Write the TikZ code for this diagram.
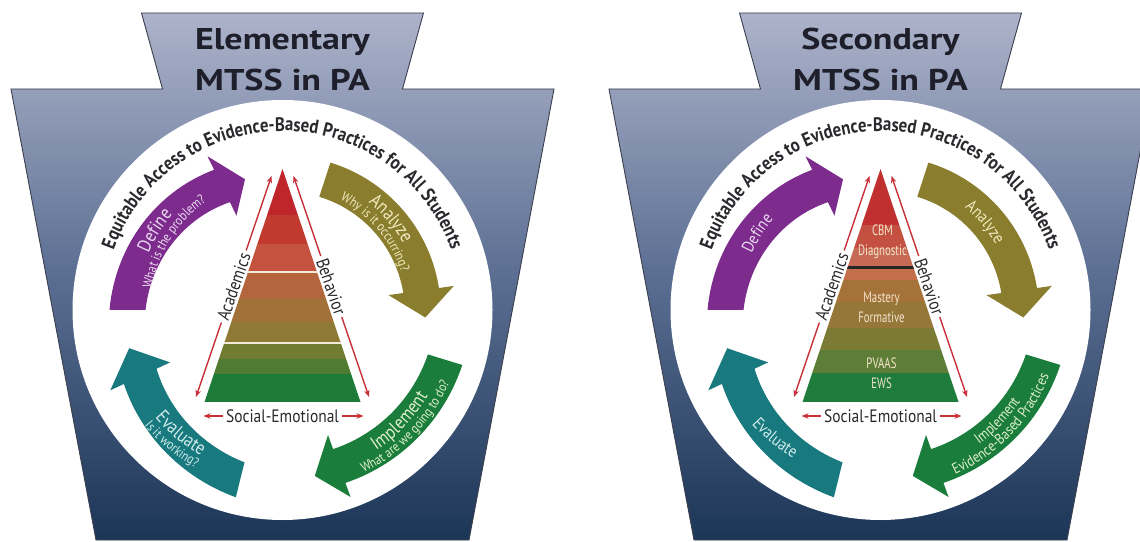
\documentclass[tikz,border=0pt]{standalone}
\usepackage{fontspec}
\setmainfont{PT Sans}
\newfontfamily\labelfont[FakeStretch=0.86]{PT Sans}
\newfontfamily\tierfont[FakeStretch=0.72]{PT Sans}
\newfontfamily\titlefont[FakeStretch=1.2]{PT Sans}
\usetikzlibrary{arrows.meta,decorations.text,positioning}

\newcommand\arctopfont{\labelfont\bfseries\fontsize{19.5}{19.5}\selectfont}
\newcommand\arcbigfont{\labelfont\fontsize{19}{19}\selectfont}
\newcommand\arcmidfont{\labelfont\fontsize{17}{17}\selectfont}
\newcommand\arcpairfont{\labelfont\fontsize{15}{15}\selectfont}
\newcommand\arcsmallfont{\labelfont\fontsize{13.5}{13.5}\selectfont}

\definecolor{ksTop}{HTML}{ADB3CA}
\definecolor{ksMid}{HTML}{5A6E92}
\definecolor{ksBot}{HTML}{1C3657}
\definecolor{ksLine}{HTML}{3C3F4E}
\definecolor{titleInk}{HTML}{1E1F2B}
\definecolor{labelInk}{HTML}{2A2A2E}
\definecolor{pyrRed}{HTML}{C8313A}
\definecolor{defPurple}{HTML}{7D2C8D}
\definecolor{anaOlive}{HTML}{8A7E2E}
\definecolor{impGreen}{HTML}{1B7D3B}
\definecolor{evaTeal}{HTML}{18797F}
\definecolor{defTxt}{HTML}{EBD9F1}
\definecolor{anaTxt}{HTML}{F2E9BE}
\definecolor{impTxt}{HTML}{DDF0C6}
\definecolor{evaTxt}{HTML}{CFEBEA}
\definecolor{tierCream}{HTML}{F3E4CC}
\definecolor{lineCream}{HTML}{F4EBD8}
% pyramid bands, elementary
\definecolor{elA}{HTML}{BE262C}
\definecolor{elB}{HTML}{C1392F}
\definecolor{elC}{HTML}{C4523F}
\definecolor{elD}{HTML}{B4653E}
\definecolor{elE}{HTML}{A2713A}
\definecolor{elF}{HTML}{8E7A34}
\definecolor{elG}{HTML}{6F7C32}
\definecolor{elH}{HTML}{4F7B33}
\definecolor{elI}{HTML}{1E7A37}
% pyramid bands, secondary
\definecolor{seA}{HTML}{C0302F}
\definecolor{seB}{HTML}{C45042}
\definecolor{seC}{HTML}{C66A55}
\definecolor{seD}{HTML}{C3704A}
\definecolor{seE}{HTML}{A5723A}
\definecolor{seF}{HTML}{95773A}
\definecolor{seG}{HTML}{7C7B36}
\definecolor{seH}{HTML}{5E7E37}
\definecolor{seI}{HTML}{1F7C3A}

\begin{document}
\begin{tikzpicture}[x=1pt,y=1pt,
  keystone/.style={draw=ksLine, line width=0.9pt, top color=ksTop, bottom color=ksBot, middle color=ksMid},
  heading/.style={font=\titlefont\bfseries\fontsize{30}{30}\selectfont, text=titleInk, anchor=base, inner sep=0pt},
  sidelabel/.style={font=\labelfont\fontsize{18}{18}\selectfont, text=labelInk, inner sep=3pt},
  pyrarrow/.style={draw=pyrRed, line width=1.4pt, -{Stealth[length=7pt,width=5.5pt]}},
  tierlabel/.style={font=\tierfont\fontsize{15}{20}\selectfont, text=tierCream, align=center, inner sep=0pt},
  arrowtext/.style={decorate, decoration={text along path, text align=center, text color=#1}},
  ]
\useasboundingbox (0,0) rectangle (1140,541);

\foreach \cx/\fig/\level in {282.5/el/Elementary,880.5/se/Secondary} {
\begin{scope}[shift={(\cx,231)}]
% keystone and title
\draw[keystone] (-141,297) -- (141,297) -- (120,221) -- (271.5,221) -- (186.5,-230)
  -- (-186.5,-230) -- (-271.5,221) -- (-120,221) -- cycle;
\node[heading] (level-\fig) at (0,260) {\level};
\node[heading] (mtss-\fig) at (0,219.5) {MTSS in PA};

\fill[white] (0,0) circle[radius=210];

% text round the top of the disc
\path[arrowtext=labelInk, decoration={text={|\arctopfont|Equitable Access to Evidence-Based Practices for All Students}}]
  (175:179) arc[start angle=175, end angle=5, radius=179];

% the four curved arrows
\foreach \col/\ta/\tn/\tp/\ra/\rn/\rp in {defPurple/180/116/106/155/138/136,
    anaOlive/72/8/-3/137/140/143, impGreen/-17/-70/-79/170/166/169,
    evaTeal/256/205/194/175/157/158}
  \fill[\col] plot[domain=\ta:\tn, samples=30] (\x:{\ra+18+(\rn-\ra)*(\x-(\ta))/(\tn-(\ta))})
    -- (\tn:{\rn+33}) -- (\tp:\rp) -- (\tn:{\rn-33})
    -- plot[domain=\tn:\ta, samples=30] (\x:{\ra-18+(\rn-\ra)*(\x-(\ta))/(\tn-(\ta))}) -- cycle;

% labels and arrows round the pyramid
\node[sidelabel, rotate=71] (acad-\fig) at (-48.75,23.5) {Academics};
\node[sidelabel, rotate=-71] (behav-\fig) at (48.75,23.5) {Behavior};
\node[sidelabel] (social-\fig) at (0,-106) {Social-Emotional};
\coordinate (acadtop-\fig) at (-11,134);
\coordinate (acadlow-\fig) at (-86.5,-87);
\coordinate (behavtop-\fig) at (11,134);
\coordinate (behavlow-\fig) at (86.5,-87);
\coordinate (socleft-\fig) at (-79,-106);
\coordinate (socright-\fig) at (81,-106);
\draw[pyrarrow] (acad-\fig.east) -- (acadtop-\fig);
\draw[pyrarrow] (acad-\fig.west) -- (acadlow-\fig);
\draw[pyrarrow] (behav-\fig.west) -- (behavtop-\fig);
\draw[pyrarrow] (behav-\fig.east) -- (behavlow-\fig);
\draw[pyrarrow] (social-\fig.west) -- (socleft-\fig);
\draw[pyrarrow] (social-\fig.east) -- (socright-\fig);
\end{scope}
}

% elementary pyramid
\begin{scope}[shift={(282.5,231)}]
\begin{scope}
\clip (0,141) -- (78,-92) -- (-78,-92) -- cycle;
\foreach \ya/\yb/\col in {141/95/elA, 95/66/elB, 66/38/elC, 38/12/elD, 12/-12/elE,
    -12/-33/elF, -33/-49/elG, -49/-64/elH, -64/-93/elI}
  \fill[\col] (-80,\ya) rectangle (80,\yb);
\draw[lineCream, line width=1.5pt] (-80,38) -- (80,38) (-80,-33) -- (80,-33);
\end{scope}

\path[arrowtext=defTxt, decoration={text={|\arcbigfont|Define}}]
  (180:145.5) arc[start angle=180, end angle=116, radius=145.5];
\path[arrowtext=defTxt, decoration={text={|\arcsmallfont|What is the problem?}}]
  (180:132.5) arc[start angle=180, end angle=116, radius=132.5];
\path[arrowtext=anaTxt, decoration={text={|\arcbigfont|Analyze}}]
  (72:137.5) arc[start angle=72, end angle=8, radius=137.5];
\path[arrowtext=anaTxt, decoration={text={|\arcsmallfont|Why is it occurring?}}]
  (72:124.5) arc[start angle=72, end angle=8, radius=124.5];
\path[arrowtext=impTxt, decoration={text={|\arcbigfont|Implement}}]
  (-70:169) arc[start angle=-70, end angle=-17, radius=169];
\path[arrowtext=impTxt, decoration={text={|\arcsmallfont|What are we going to do?}}]
  (-70:182) arc[start angle=-70, end angle=-17, radius=182];
\path[arrowtext=evaTxt, decoration={text={|\arcbigfont|Evaluate}}]
  (205:167) arc[start angle=205, end angle=256, radius=167];
\path[arrowtext=evaTxt, decoration={text={|\arcsmallfont|Is it working?}}]
  (205:180) arc[start angle=205, end angle=256, radius=180];
\end{scope}

% secondary pyramid
\begin{scope}[shift={(880.5,231)}]
\begin{scope}
\clip (0,141) -- (78,-92) -- (-78,-92) -- cycle;
\foreach \ya/\yb/\col in {141/85/seA, 85/62/seB, 62/42/seC, 42/30/seD, 30/8/seE,
    8/-18/seF, -18/-40/seG, -40/-63/seH, -63/-93/seI}
  \fill[\col] (-80,\ya) rectangle (80,\yb);
\draw[black!85, line width=3pt] (-80,42) -- (80,42);
\end{scope}
\node[tierlabel] (tier1) at (2,68) {CBM\\Diagnostic};
\node[tierlabel] (tier2) at (1,2.5) {Mastery\\Formative};
\node[tierlabel] (tier3) at (1,-63.5) {PVAAS\\EWS};

\path[arrowtext=defTxt, decoration={text={|\arcmidfont|Define}}]
  (180:140.5) arc[start angle=180, end angle=116, radius=140.5];
\path[arrowtext=anaTxt, decoration={text={|\arcmidfont|Analyze}}]
  (72:132.5) arc[start angle=72, end angle=8, radius=132.5];
\path[arrowtext=impTxt, decoration={text={|\arcpairfont|Implement}}]
  (-70:167) arc[start angle=-70, end angle=-17, radius=167];
\path[arrowtext=impTxt, decoration={text={|\arcpairfont|Evidence-Based Practices}}]
  (-70:181) arc[start angle=-70, end angle=-17, radius=181];
\path[arrowtext=evaTxt, decoration={text={|\arcmidfont|Evaluate}}]
  (205:172) arc[start angle=205, end angle=256, radius=172];
\end{scope}
\end{tikzpicture}
\end{document}
